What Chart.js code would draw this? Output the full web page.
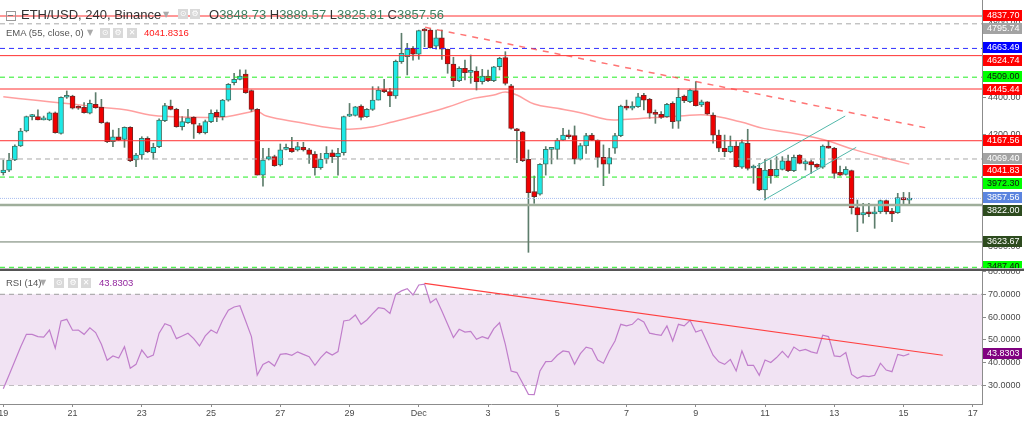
<!DOCTYPE html>
<html>
<head>
<meta charset="utf-8">
<script src="https://cdn.jsdelivr.net/npm/chart.js@4.4.1/dist/chart.umd.min.js"></script>
<style>
html, body { margin: 0; padding: 0; background: #fff; width: 1024px; height: 421px; overflow: hidden; }
#wrap { position: relative; width: 1024px; height: 421px; font-family: 'Liberation Sans', Arial, sans-serif; }
#price { position: absolute; left: 0; top: 0; }
#rsi { position: absolute; left: 0; top: 268px; }
.lg { position: absolute; white-space: nowrap; line-height: 11px; font-size: 9.5px; color: #555; }
.big { font-size: 13px; line-height: 16px; color: #333; }
.ico { position: absolute; width: 10px; height: 10px; background: #d9d9d9; color: #fff; font: 8px/10px 'DejaVu Sans', sans-serif; text-align: center; }
.caret { position: absolute; color: #aaa; font: 8px/10px 'DejaVu Sans', sans-serif; }
.num { color: #3d7f5f; }
</style>
</head>
<body>
<div id="wrap">
  <canvas id="price" width="1024" height="268"></canvas>
  <canvas id="rsi" width="1024" height="153"></canvas>

  <!-- main series legend -->
  <div style="position:absolute;left:6px;top:11px;width:8px;height:8px;border:1px solid #999;"></div>
  <div style="position:absolute;left:8px;top:15px;width:5px;height:1px;background:#777;"></div>
  <div class="lg big" style="left:21px;top:7px;">ETH/USD, 240, Binance</div>
  <div class="caret" style="left:163px;top:10px;">▼</div>
  <div class="ico" style="left:178px;top:9px;">⊙</div>
  <div class="ico" style="left:190px;top:9px;">⚙</div>
  <div class="lg big" style="left:209px;top:7px;">O<span class="num">3848.73</span> H<span class="num">3889.57</span> L<span class="num">3825.81</span> C<span class="num">3857.56</span></div>

  <!-- EMA legend -->
  <div class="lg" style="left:6px;top:27px;">EMA (55, close, 0)</div>
  <div class="caret" style="left:87px;top:28px;">▼</div>
  <div class="ico" style="left:100px;top:28px;">⊙</div>
  <div class="ico" style="left:113px;top:28px;">⚙</div>
  <div class="ico" style="left:127px;top:28px;">✕</div>
  <div class="lg" style="left:144px;top:27px;color:#ff1a1a;">4041.8316</div>

  <!-- RSI legend -->
  <div class="lg" style="left:6px;top:277px;">RSI (14)</div>
  <div class="caret" style="left:40px;top:278px;">▼</div>
  <div class="ico" style="left:54px;top:278px;">⊙</div>
  <div class="ico" style="left:68px;top:278px;">⚙</div>
  <div class="ico" style="left:81px;top:278px;">✕</div>
  <div class="lg" style="left:99px;top:277px;color:#93279f;">43.8303</div>
</div>

<script>
// ETH/USD 4h candles, index 0 = Nov 19 00:00
const opens = [3996,4010,4064,4139,4220,4297,4297,4280,4279,4318,
    4207,4401,4408,4347,4347,4315,4363,4347,4265,4163,
    4189,4175,4240,4064,4091,4180,4103,4136,4275,4354,
    4336,4243,4265,4293,4249,4211,4270,4320,4297,4386,
    4480,4497,4526,4437,4336,3983,4068,4082,4037,4121,
    4127,4118,4132,4118,4096,4023,4071,4103,4082,4103,
    4300,4304,4354,4297,4336,4386,4443,4431,4408,4592,
    4619,4664,4632,4759,4762,4676,4721,4659,4580,4490,
    4556,4535,4542,4485,4515,4490,4565,4614,4462,4225,
    4215,4068,3894,3881,4041,4121,4121,4171,4198,4195,
    4068,4139,4198,4171,4078,4041,4127,4195,4354,4342,
    4350,4411,4390,4311,4309,4297,4368,4273,4408,4377,
    4437,4360,4377,4306,4198,4127,4109,4139,4025,4154,
    4021,4019,3903,4014,3978,4014,4060,4007,4091,4043,
    4055,4041,4025,4139,4127,3998,3987,4007,3808,3769,
    3786,3774,3786,3846,3790,3781,3862,3848.73];
const highs = [4064,4100,4145,4234,4300,4309,4333,4300,4322,4322,
    4404,4435,4412,4355,4372,4386,4426,4390,4268,4225,
    4234,4242,4243,4100,4189,4189,4154,4285,4368,4386,
    4342,4297,4336,4297,4261,4279,4333,4333,4390,4475,
    4530,4548,4548,4440,4340,4127,4127,4090,4150,4150,
    4186,4159,4159,4127,4109,4100,4136,4118,4127,4300,
    4368,4352,4360,4340,4458,4458,4497,4449,4601,4745,
    4691,4673,4762,4771,4768,4762,4762,4660,4616,4565,
    4601,4628,4565,4551,4547,4567,4616,4646,4470,4234,
    4218,4118,3978,4045,4136,4127,4180,4234,4225,4247,
    4153,4207,4207,4172,4145,4127,4207,4359,4386,4377,
    4422,4422,4395,4333,4324,4368,4377,4449,4413,4445,
    4485,4386,4378,4318,4225,4198,4193,4163,4172,4229,
    4037,4046,4068,4064,4082,4082,4091,4091,4093,4064,
    4064,4043,4145,4168,4132,4032,4028,4010,3849,3831,
    3831,3813,3849,3849,3804,3885,3890,3889.57];
const lows = [3983,4001,4060,4136,4215,4279,4279,4279,4275,4208,
    4203,4395,4338,4336,4315,4311,4342,4261,4157,4136,
    4168,4132,4055,4028,4068,4103,4068,4130,4270,4333,
    4240,4225,4261,4180,4204,4204,4265,4270,4279,4380,
    4467,4494,4422,4324,3983,3924,4064,4030,4032,4118,
    4105,4112,4112,4046,3983,4014,4046,4050,3983,4090,
    4297,4300,4279,4293,4330,4386,4426,4350,4395,4583,
    4521,4601,4605,4673,4665,4659,4605,4530,4458,4485,
    4494,4476,4440,4472,4485,4485,4548,4467,4230,4050,
    4055,3568,3831,3875,3983,4043,4068,4168,4180,4043,
    4064,4100,4168,4025,3926,3992,4100,4189,4333,4333,
    4347,4333,4288,4261,4288,4293,4234,4234,4372,4372,
    4354,4351,4306,4154,4109,4082,4103,4025,4019,4010,
    3939,3899,3849,3939,3974,4010,4001,4001,4043,4010,
    3992,4019,4019,4127,3966,3978,3983,3774,3679,3724,
    3760,3697,3777,3774,3733,3777,3822,3825.81];
const closes = [4010,4064,4139,4220,4297,4298,4279,4283,4318,4211,
    4401,4404,4342,4342,4318,4368,4345,4265,4163,4189,
    4171,4240,4060,4091,4180,4109,4132,4279,4356,4336,
    4243,4270,4291,4257,4211,4270,4315,4297,4386,4470,
    4497,4515,4426,4336,3983,4064,4082,4034,4118,4123,
    4109,4136,4118,4094,4023,4068,4100,4082,4100,4297,
    4304,4350,4293,4336,4386,4440,4431,4408,4594,4637,
    4659,4632,4759,4757,4667,4721,4659,4580,4490,4556,
    4533,4539,4485,4515,4490,4565,4610,4476,4234,4221,
    4060,3889,3867,4041,4121,4123,4171,4198,4189,4068,
    4141,4195,4171,4078,4041,4077,4195,4354,4342,4354,
    4404,4386,4315,4309,4293,4363,4270,4401,4383,4440,
    4356,4377,4311,4198,4127,4109,4139,4028,4157,4019,
    4023,3903,4010,3978,4014,4060,4007,4078,4046,4055,
    4037,4025,4139,4127,3992,3983,4014,3808,3769,3781,
    3774,3786,3846,3786,3774,3862,3849,3857.56];

// EMA(55)
const emaX = [0,5.2,11,16.8,21.4,25.4,29.5,35.2,38.7,42.8,43.9,45.6,51.4,57.2,60,
    64.1,67,72.8,76.9,81.5,85,87,89,92,96,100,104.6,107.5,113.2,117.3,
    121.9,127.7,131.7,136.4,140.4,143.3,147.3,152,157];
const emaY = [4404,4386,4368,4347,4333,4306,4297,4293,4297,4322,4329,4300,4265,4234,4229,
    4243,4265,4311,4347,4395,4413,4429,4413,4365,4342,4318,4282,4282,4293,4300,
    4306,4270,4234,4211,4186,4163,4121,4082,4041.83];

// RSI(14), one value per candle
const rsi = [28.5,34.5,40.7,46.8,52.4,52.4,51.4,51.2,54.3,46.3,
    58.3,59.0,54.2,54.3,52.4,55.3,53.2,48.0,41.0,42.9,
    42.0,47.0,37.5,39.2,45.5,42.2,43.3,52.9,57.1,56.1,
    50.5,51.7,52.9,50.5,47.3,51.7,54.3,52.9,58.6,63.0,
    64.4,65.0,58.3,51.4,34.5,39.2,40.5,38.5,43.6,43.9,
    43.2,44.7,43.6,42.6,38.8,42.2,44.7,43.3,44.8,58.3,
    58.7,60.9,56.8,58.7,61.5,64.1,63.7,61.6,70.0,71.5,
    72.5,69.7,74.1,74.5,66.3,68.1,62.7,56.8,51.0,54.6,
    53.4,53.7,50.2,51.4,50.5,54.9,57.5,48.0,36.3,35.6,
    30.9,26.0,25.9,36.3,40.4,40.5,43.2,45.1,44.7,39.2,
    43.9,46.8,46.1,41.1,39.7,45.1,49.5,56.8,56.1,56.8,
    59.3,57.8,52.9,52.4,52.0,56.1,49.5,56.8,56.1,58.6,
    53.4,54.3,48.8,43.2,40.3,39.2,41.4,36.3,45.1,38.8,
    38.8,34.4,41.1,40.0,42.2,44.9,42.2,46.8,45.1,45.8,
    44.7,44.1,52.0,51.4,42.9,42.6,44.4,34.8,33.1,34.1,
    33.8,34.4,39.7,36.7,36.0,43.6,42.9,43.8303];

// horizontal price levels
const levelValues = [4837.70, 4795.74, 4663.49, 4624.74, 4509.00, 4445.44, 4167.56, 4069.40, 3972.30, 3857.56, 3822.00, 3623.67, 3487.40];
const levelStyles = [
    {line: '#ff3030', dash: [], w: 1, box: '#ff0000', text: '#fff'},
    {line: '#a8a8a8', dash: [5, 4], w: 1, box: '#a3a3a3', text: '#fff'},
    {line: '#3030ff', dash: [5, 4], w: 1, box: '#0000ff', text: '#fff'},
    {line: '#ff3030', dash: [], w: 1, box: '#ff0000', text: '#fff'},
    {line: '#22ee22', dash: [5, 4], w: 1, box: '#00ff00', text: '#111'},
    {line: '#ff3030', dash: [], w: 1, box: '#ff0000', text: '#fff'},
    {line: '#ff3030', dash: [], w: 1, box: '#ff0000', text: '#fff'},
    {line: '#a8a8a8', dash: [5, 4], w: 1, box: '#a3a3a3', text: '#fff'},
    {line: '#22ee22', dash: [5, 4], w: 1, box: '#00ff00', text: '#111'},
    {line: '#a9bdf0', dash: [1, 1], w: 1, box: '#5b84df', text: '#fff'},
    {line: '#9fae9b', dash: [], w: 2.5, box: '#2d4b1e', text: '#fff'},
    {line: '#6c7c6a', dash: [], w: 1, box: '#2d4b1e', text: '#fff'},
    {line: '#22ee22', dash: [5, 4], w: 1, box: '#00ff00', text: '#111'}
];

// drawn trend lines
const trendX = [73.1, 160.4];
const trendY = [4777, 4234];
const channelLowX = [131.8, 147.8];
const channelLowY = [3849, 4132];
const channelHighX = [130.6, 145.9];
const channelHighY = [4031.7, 4300.4];
const rsiTrendX = [73.0, 162.8];
const rsiTrendY = [74.8, 43.2];

const dayTicks = [0, 12, 24, 36, 48, 60, 72, 84, 96, 108, 120, 132, 144, 156, 168];
const dayLabels = ['19', '21', '23', '25', '27', '29', 'Dec', '3', '5', '7', '9', '11', '13', '15', '17'];
const priceTicks = [3600, 3800, 4000, 4200, 4400, 4600, 4800];
const rsiTicks = [30, 40, 50, 60, 70, 80];
const rsiLevels = [70, 30];

const X_MIN = -0.572;
const X_MAX = 169.6;
const AXIS_FONT = "'Liberation Sans', Arial, sans-serif";

Chart.defaults.font.family = AXIS_FONT;
Chart.defaults.color = '#4a4a4a';

const pts = (xs, ys) => xs.map((x, i) => ({x: x, y: ys[i]}));
const up = opens.map((o, i) => closes[i] >= o);

// keep the plot area flush with the canvas edges
const fitY = s => { s.width = 42; s.paddingTop = 0; s.paddingBottom = 0; };
const fitX = s => { s.height = 17; s.paddingLeft = 0; s.paddingRight = 0; };

function drawBox(ctx, x, y, label, box, text) {
    ctx.fillStyle = box;
    ctx.fillRect(x, Math.round(y) - 6, 39, 11);
    ctx.fillStyle = text;
    ctx.fillText(label, x + 4, Math.round(y));
}

// value boxes on the price axis, pushed apart when they would overlap
const priceLabels = {
    id: 'priceLabels',
    afterDraw(chart) {
        const {ctx, chartArea} = chart;
        const y = chart.scales.y;
        const items = levelValues.map((v, i) => ({v: v, box: levelStyles[i].box, text: levelStyles[i].text}));
        items.push({v: emaY[emaY.length - 1], box: '#ff0000', text: '#fff'});
        items.forEach(it => { it.y = y.getPixelForValue(it.v); });
        items.sort((a, b) => a.y - b.y);
        let prev = -100;
        items.forEach(it => {
            if (it.y - prev < 12.5) it.y = prev + 12.5;
            prev = it.y;
        });
        ctx.save();
        ctx.font = '9px ' + AXIS_FONT;
        ctx.textBaseline = 'middle';
        items.forEach(it => drawBox(ctx, chartArea.right + 1, it.y, it.v.toFixed(2), it.box, it.text));
        ctx.restore();
    }
};

const rsiLabels = {
    id: 'rsiLabels',
    afterDraw(chart) {
        const {ctx, chartArea} = chart;
        const last = rsi[rsi.length - 1];
        ctx.save();
        // pane separator
        ctx.fillStyle = '#bdbdbd';
        ctx.fillRect(0, 0, 1024, 1);
        ctx.fillStyle = '#555';
        ctx.fillRect(0, 1, 1024, 2);
        ctx.font = '9px ' + AXIS_FONT;
        ctx.textBaseline = 'middle';
        drawBox(ctx, chartArea.right + 1, chart.scales.y.getPixelForValue(last), last.toFixed(4), '#800080', '#fff');
        ctx.restore();
    }
};

const levelSets = levelValues.map((v, i) => ({
    type: 'line',
    data: [{x: X_MIN, y: v}, {x: X_MAX, y: v}],
    borderColor: levelStyles[i].line,
    borderDash: levelStyles[i].dash,
    borderWidth: levelStyles[i].w,
    pointRadius: 0,
    order: 1
}));

new Chart(document.getElementById('price'), {
    type: 'bar',
    data: {
        datasets: [
            {
                // wicks
                data: opens.map((o, i) => ({x: i, y: [lows[i], highs[i]]})),
                backgroundColor: '#5d7d6c',
                barThickness: 1,
                grouped: false,
                order: 4
            },
            {
                type: 'line',
                data: pts(emaX, emaY),
                borderColor: 'rgba(255, 80, 80, 0.55)',
                borderWidth: 1.5,
                pointRadius: 0,
                tension: 0.4,
                order: 3
            },
            {
                // bodies
                data: opens.map((o, i) => ({x: i, y: [o, closes[i]]})),
                backgroundColor: up.map(u => u ? '#1de9e6' : '#f00000'),
                borderColor: up.map(u => u ? '#3f7466' : '#7a2323'),
                borderWidth: 1,
                borderSkipped: false,
                barThickness: 5,
                minBarLength: 2,
                grouped: false,
                order: 2
            },
            ...levelSets,
            {
                type: 'line',
                data: pts(trendX, trendY),
                borderColor: 'rgba(255, 70, 70, 0.75)',
                borderDash: [6, 6],
                borderWidth: 1.5,
                pointRadius: 0,
                order: 0
            },
            {
                type: 'line',
                data: pts(channelLowX, channelLowY),
                borderColor: '#52b8aa',
                borderWidth: 1,
                pointRadius: 0,
                order: 0
            },
            {
                type: 'line',
                data: pts(channelHighX, channelHighY),
                borderColor: '#52b8aa',
                borderWidth: 1,
                pointRadius: 0,
                order: 0
            }
        ]
    },
    options: {
        responsive: false,
        animation: false,
        layout: {padding: 0, autoPadding: false},
        plugins: {legend: {display: false}, tooltip: {enabled: false}},
        scales: {
            x: {type: 'linear', min: X_MIN, max: X_MAX, display: false, offset: false},
            y: {
                position: 'right',
                min: 3483.7,
                max: 4923.7,
                afterFit: fitY,
                afterBuildTicks: s => { s.ticks = priceTicks.map(v => ({value: v})); },
                ticks: {callback: v => v.toFixed(2), font: {size: 9}, padding: 2, color: '#4a4a4a'},
                grid: {drawOnChartArea: false, tickLength: 4, color: '#8c8c8c'},
                border: {color: '#8c8c8c'}
            }
        }
    },
    plugins: [priceLabels]
});

new Chart(document.getElementById('rsi'), {
    type: 'line',
    data: {
        datasets: [
            {
                data: [{x: X_MIN, y: rsiLevels[0]}, {x: X_MAX, y: rsiLevels[0]}],
                borderColor: '#9d9d9d',
                borderDash: [5, 4],
                borderWidth: 1,
                pointRadius: 0,
                fill: '+1',
                backgroundColor: '#f1e3f3',
                order: 3
            },
            {
                data: [{x: X_MIN, y: rsiLevels[1]}, {x: X_MAX, y: rsiLevels[1]}],
                borderColor: '#9d9d9d',
                borderDash: [5, 4],
                borderWidth: 1,
                pointRadius: 0,
                fill: false,
                order: 3
            },
            {
                data: rsi.map((v, i) => ({x: i, y: v})),
                borderColor: '#c07ecb',
                borderWidth: 1.2,
                pointRadius: 0,
                fill: false,
                order: 2
            },
            {
                data: pts(rsiTrendX, rsiTrendY),
                borderColor: '#ff4040',
                borderWidth: 1.2,
                pointRadius: 0,
                fill: false,
                order: 1
            }
        ]
    },
    options: {
        responsive: false,
        animation: false,
        layout: {padding: {top: 3}, autoPadding: false},
        plugins: {legend: {display: false}, tooltip: {enabled: false}},
        scales: {
            x: {
                type: 'linear',
                min: X_MIN,
                max: X_MAX,
                afterFit: fitX,
                afterBuildTicks: s => { s.ticks = dayTicks.map(v => ({value: v})); },
                ticks: {
                    autoSkip: false,
                    maxRotation: 0,
                    padding: 1,
                    font: {size: 9},
                    color: '#4a4a4a',
                    callback: (v, i) => dayLabels[i]
                },
                grid: {drawOnChartArea: false, tickLength: 3, color: '#8c8c8c'},
                border: {color: '#8c8c8c'}
            },
            y: {
                position: 'right',
                min: 21.78,
                max: 80.24,
                afterFit: fitY,
                afterBuildTicks: s => { s.ticks = rsiTicks.map(v => ({value: v})); },
                ticks: {callback: v => v.toFixed(4), font: {size: 9}, padding: 2, color: '#4a4a4a'},
                grid: {drawOnChartArea: false, tickLength: 4, color: '#8c8c8c'},
                border: {color: '#8c8c8c'}
            }
        }
    },
    plugins: [rsiLabels]
});
</script>
</body>
</html>
